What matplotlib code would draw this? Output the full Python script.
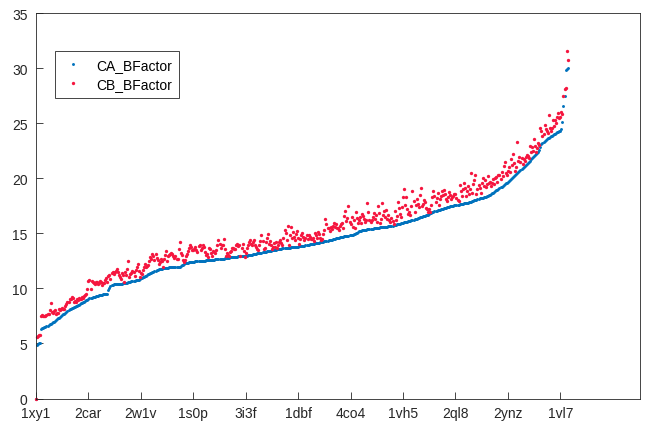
import numpy as np
import matplotlib
matplotlib.use("Agg")
import matplotlib.pyplot as plt

# B-factors per structure, sorted by the CA value
ca_bfactor = [
    0.00, 4.90, 4.95, 5.00, 5.05,
    6.35, 6.40, 6.44, 6.48, 6.52, 6.57, 6.62, 6.66, 6.72, 6.78, 6.85, 6.92, 6.98, 7.05, 7.12, 7.20,
    7.27, 7.33, 7.40, 7.48, 7.57, 7.63, 7.70, 7.78, 7.86, 7.95, 8.04, 8.13,
    8.16, 8.20, 8.24, 8.29, 8.33, 8.38, 8.43, 8.48, 8.53, 8.58, 8.63, 8.68, 8.73,
    8.79, 8.85, 8.92, 8.98, 9.04, 9.10,
    9.13, 9.16, 9.20, 9.23, 9.26, 9.30, 9.33,
    9.35, 9.37, 9.39, 9.41, 9.43, 9.45, 9.47, 9.49, 9.51, 9.53,
    9.88, 10.05, 10.18, 10.28, 10.34,
    10.36, 10.37, 10.38, 10.39, 10.40, 10.41, 10.42, 10.43, 10.44, 10.45, 10.47, 10.49, 10.51, 10.53, 10.55, 10.57, 10.60,
    10.63, 10.66, 10.69, 10.71, 10.73, 10.75, 10.77, 10.80, 10.85,
    10.90, 10.95, 11.00, 11.05, 11.10, 11.15, 11.20, 11.26, 11.32, 11.37,
    11.42, 11.47, 11.52, 11.57, 11.61, 11.65, 11.69, 11.73, 11.76,
    11.78, 11.80, 11.82, 11.83, 11.84, 11.85, 11.87, 11.88, 11.90, 11.91,
    11.92, 11.92, 11.93, 11.94, 11.94, 11.95, 11.96, 11.96, 11.97,
    12.02, 12.08, 12.14, 12.20, 12.27,
    12.29, 12.31, 12.33, 12.35, 12.37, 12.39, 12.40, 12.42,
    12.43, 12.44, 12.45, 12.46, 12.47, 12.48, 12.49, 12.50, 12.51, 12.51, 12.52, 12.53, 12.54, 12.55, 12.56, 12.57,
    12.58, 12.59, 12.60, 12.61, 12.62, 12.63, 12.64, 12.65, 12.66, 12.67, 12.68, 12.69, 12.70, 12.72, 12.74, 12.76, 12.78, 12.80, 12.82,
    12.83, 12.84, 12.85, 12.86, 12.87, 12.88, 12.89, 12.90, 12.91, 12.92, 12.93, 12.94, 12.95, 12.96, 12.97, 12.98, 13.00, 13.01, 13.03,
    13.05, 13.07, 13.09, 13.11, 13.13, 13.15, 13.17, 13.19, 13.21, 13.23, 13.25, 13.27, 13.29, 13.31, 13.33, 13.36,
    13.38, 13.40, 13.41, 13.43, 13.45, 13.47, 13.48, 13.50, 13.52, 13.54, 13.55, 13.57, 13.59, 13.60, 13.62, 13.63,
    13.64, 13.65, 13.66, 13.68, 13.69, 13.70, 13.71, 13.72, 13.74, 13.75, 13.76, 13.77, 13.78, 13.80, 13.81, 13.82, 13.84, 13.85, 13.87,
    13.89, 13.91, 13.93, 13.95, 13.97, 13.99, 14.01, 14.03, 14.05, 14.07, 14.09, 14.11, 14.13, 14.15, 14.16, 14.18,
    14.20, 14.22, 14.24, 14.27, 14.29, 14.31, 14.34, 14.36, 14.38, 14.41, 14.43, 14.46, 14.48, 14.51, 14.53, 14.55, 14.58, 14.60, 14.63,
    14.65, 14.67, 14.69, 14.71, 14.73, 14.75, 14.77, 14.79, 14.81, 14.83, 14.85, 14.88, 14.90, 14.93,
    15.00, 15.06, 15.12, 15.18, 15.23,
    15.25, 15.27, 15.28, 15.30, 15.32, 15.33, 15.35, 15.36, 15.38, 15.40, 15.41, 15.43, 15.44, 15.46, 15.48, 15.49, 15.51, 15.52, 15.54,
    15.55, 15.56, 15.57, 15.58, 15.59, 15.60, 15.61, 15.62, 15.64, 15.65, 15.67, 15.70, 15.73, 15.75, 15.78,
    15.80, 15.83, 15.85, 15.88, 15.90, 15.93, 15.95, 15.98, 16.00, 16.03, 16.06, 16.08, 16.11, 16.14,
    16.17, 16.21, 16.24, 16.27, 16.31, 16.34, 16.37, 16.40, 16.44, 16.47, 16.50, 16.53, 16.56, 16.59, 16.62, 16.66,
    16.70, 16.75, 16.80, 16.85, 16.91, 16.96,
    16.99, 17.02, 17.05, 17.08, 17.11, 17.14, 17.17, 17.20, 17.23, 17.26, 17.29, 17.32, 17.36, 17.39, 17.42, 17.45,
    17.47, 17.49, 17.51, 17.53, 17.55, 17.57, 17.59, 17.61, 17.63, 17.65, 17.67, 17.69, 17.71, 17.72, 17.74, 17.75,
    17.78, 17.81, 17.85, 17.88, 17.92, 17.95, 17.99, 18.02, 18.06, 18.09, 18.13, 18.16, 18.20,
    18.22, 18.24, 18.25, 18.27, 18.31, 18.35, 18.40, 18.45, 18.50, 18.56, 18.63, 18.70,
    18.76, 18.83, 18.90, 18.96, 19.03, 19.10, 19.16, 19.23, 19.30, 19.37,
    19.45, 19.53, 19.61, 19.69, 19.77, 19.85, 19.93, 20.00, 20.08,
    20.17, 20.26, 20.35, 20.44, 20.53, 20.62, 20.71, 20.80, 20.90, 20.99,
    21.09, 21.19, 21.29, 21.39, 21.50, 21.60,
    21.70, 21.80, 21.89, 21.98, 22.07, 22.16, 22.25, 22.35,
    22.60, 22.85, 23.10, 23.20, 23.30, 23.38, 23.47, 23.56,
    23.62, 23.68, 23.74, 23.80, 23.86, 23.92, 23.98, 24.04, 24.10, 24.16, 24.21, 24.26, 24.31,
    24.45, 25.10, 26.55, 27.50, 29.80, 29.95, 30.05,
]

cb_bfactor = [
    0.0, 5.6, 5.65, 5.75, 5.8, 7.5, 7.55, 7.45, 7.5, 7.45,
    7.6, 7.7, 7.65, 8.0, 8.7, 7.85, 7.8, 7.95, 8.0, 7.7,
    7.75, 7.8, 8.1, 8.05, 8.1, 8.2, 8.15, 8.1, 8.4, 8.6,
    8.8, 8.75, 9.0, 9.05, 9.2, 9.1, 8.8, 8.85, 8.8, 9.0,
    8.95, 9.1, 9.0, 9.05, 9.2, 9.15, 9.3, 9.4, 9.5, 9.9,
    10.7, 10.75, 9.9, 10.7, 10.6, 10.5, 10.4, 10.6, 10.55, 10.4,
    10.5, 10.7, 10.6, 10.3, 10.45, 10.5, 10.8, 10.9, 10.6, 11.1,
    11.2, 10.85, 11.4, 11.5, 11.3, 11.45, 11.6, 11.75, 11.5, 11.2,
    11.0, 10.85, 11.4, 11.2, 10.6, 11.45, 11.2, 11.8, 12.45, 11.0,
    11.3, 11.4, 11.6, 11.5, 11.15, 11.7, 11.9, 12.2, 11.6, 11.05,
    11.4, 11.3, 11.7, 11.9, 12.25, 11.9, 12.0, 12.1, 12.5, 12.85,
    12.7, 13.1, 12.9, 12.6, 13.1, 12.8, 12.55, 12.25, 12.4, 12.65,
    12.5, 11.9, 12.7, 13.0, 13.4, 12.5, 12.9, 13.0, 13.1, 13.2,
    13.15, 12.95, 12.8, 12.9, 12.7, 12.65, 13.6, 14.2, 13.2, 13.0,
    12.6, 12.35, 12.6, 12.9, 13.1, 13.4, 13.7, 13.95, 13.8, 13.5,
    13.45, 13.6, 13.8, 13.5, 13.3, 13.85, 13.9, 13.5, 13.7, 13.95,
    13.75, 13.3, 13.0, 13.1, 12.85, 13.7, 13.6, 13.2, 12.9, 13.4,
    13.3, 13.25, 13.5, 13.9, 14.4, 14.0, 13.7, 13.95, 13.9, 14.5,
    13.6, 12.95, 13.2, 13.0, 12.95, 13.3, 13.4, 13.65, 13.65, 13.6,
    13.55, 13.9, 14.05, 13.85, 13.9, 12.95, 13.7, 14.05, 13.4, 12.85,
    13.2, 13.65, 13.9, 14.2, 14.4, 14.0, 13.95, 14.2, 14.4, 13.95,
    13.8, 13.6, 13.5, 13.9, 14.3, 14.8, 14.3, 13.6, 13.7, 14.2,
    14.6, 14.9, 14.05, 14.3, 13.9, 13.55, 13.8, 14.1, 13.8, 14.2,
    13.65, 13.9, 14.2, 14.4, 14.1, 13.95, 14.6, 15.3, 15.0, 14.4,
    15.7, 13.95, 14.8, 15.55, 14.6, 15.1, 14.7, 14.4, 14.9, 15.25,
    14.6, 14.05, 14.5, 14.8, 15.0, 14.7, 14.4, 14.6, 14.8, 14.5,
    14.8, 14.65, 14.5, 14.45, 14.6, 14.3, 15.0, 14.8, 14.6, 15.15,
    14.9, 14.6, 14.35, 14.5, 14.9, 15.3, 16.3, 15.8, 15.5, 15.45,
    15.2, 15.55, 15.4, 15.7, 15.95, 15.6, 15.85, 15.5, 15.45, 15.3,
    15.65, 15.8, 15.9, 15.5, 16.6, 17.05, 16.15, 16.4, 17.5, 16.0,
    15.8, 16.45, 15.55, 16.2, 15.5, 16.95, 16.4, 15.95, 16.2, 16.5,
    15.9, 16.75, 16.6, 16.3, 16.0, 16.25, 17.75, 16.9, 16.2, 16.0,
    16.25, 16.5, 16.85, 16.3, 16.65, 16.0, 17.45, 16.8, 15.95, 16.3,
    17.75, 16.7, 17.05, 16.5, 17.15, 16.3, 16.65, 16.2, 16.0, 16.4,
    16.1, 15.85, 17.05, 16.25, 16.6, 17.85, 17.3, 16.75, 16.5, 17.4,
    18.3, 19.0, 17.6, 18.25, 17.2, 16.75, 16.9, 16.65, 17.5, 18.8,
    17.9, 16.95, 17.6, 18.15, 17.7, 17.4, 18.5, 19.15, 17.5, 17.7,
    18.0, 17.85, 17.3, 17.25, 16.95, 17.2, 16.95, 17.6, 18.3, 18.85,
    18.4, 17.85, 18.2, 18.65, 17.55, 18.1, 18.4, 18.8, 18.5, 18.95,
    18.6, 18.1, 17.9, 18.25, 18.75, 18.5, 18.1, 18.25, 18.4, 18.55,
    18.6, 18.2, 18.0, 17.95, 19.4, 18.8, 18.35, 19.0, 19.6, 19.1,
    18.4, 18.8, 19.25, 18.6, 19.0, 20.5, 18.7, 19.5, 19.8, 20.25,
    18.55, 19.0, 19.4, 19.1, 18.7, 19.6, 20.0, 19.3, 19.85, 19.2,
    19.5, 20.2, 19.55, 19.7, 19.3, 19.6, 19.95, 19.5, 20.0, 20.1,
    19.7, 20.25, 20.3, 19.9, 20.6, 20.2, 21.15, 21.45, 20.5, 20.3,
    20.7, 21.0, 20.6, 21.75, 21.2, 22.2, 21.4, 20.7, 21.0, 23.3,
    21.6, 21.9, 21.5, 21.8, 21.3, 21.75, 21.6, 21.9, 22.1, 22.05,
    21.8, 22.95, 22.4, 22.8, 22.5, 23.6, 22.9, 22.35, 22.7, 23.2,
    23.0, 24.55, 24.3, 23.8, 24.0, 24.85, 24.5, 24.3, 24.1, 25.7,
    24.55, 24.3, 24.6, 25.3, 24.7, 25.25, 25.0, 25.6, 25.9, 25.5,
    25.6, 26.0, 25.8, 27.45, 28.1, 28.2, 31.55, 30.75,
]

# one PDB id labelled every 50 structures
pdb_labels = ['1xy1', '2car', '2w1v', '1s0p', '3i3f', '1dbf',
              '4co4', '1vh5', '2ql8', '2ynz', '1vl7']

plt.rcParams['font.family'] = ['Liberation Sans', 'DejaVu Sans']
plt.rcParams['font.size'] = 10
axis_color = '#262626'

fig = plt.figure(figsize=(6.49, 4.27), dpi=100)
ax = fig.add_axes([36 / 649, 27.5 / 427, 604 / 649, 385.5 / 427])

x_ca = np.arange(1, len(ca_bfactor) + 1)
x_cb = np.arange(1, len(cb_bfactor) + 1)
ax.plot(x_ca, ca_bfactor, 'o', ms=2.1, mec='none', color='#0072BD',
        label='CA_BFactor', clip_on=False)
ax.plot(x_cb, cb_bfactor, 'o', ms=2.4, mec='none', color='#F5163F',
        label='CB_BFactor', clip_on=False)

ax.set_xlim(1, 577)
ax.set_ylim(0, 35)
ax.set_xticks(x_ca[::50])
ax.set_xticklabels(pdb_labels)
ax.set_yticks(np.arange(0, 36, 5))

ax.tick_params(direction='in', length=5, width=0.6, colors=axis_color, labelsize=10)
ax.tick_params(axis='x', pad=5.5)
ax.tick_params(axis='y', pad=6)
for spine in ax.spines.values():
    spine.set_color(axis_color)
    spine.set_linewidth(0.6)

leg = ax.legend(loc='upper left', bbox_to_anchor=((55 - 36) / 604, (399.5 - 52) / 385.5),
                borderaxespad=0, fancybox=False, edgecolor=axis_color, framealpha=1,
                borderpad=0.5, handlelength=1.6, handletextpad=0.9, labelspacing=0.35)
leg.get_frame().set_linewidth(0.6)

fig.savefig('out.png', dpi=100)
